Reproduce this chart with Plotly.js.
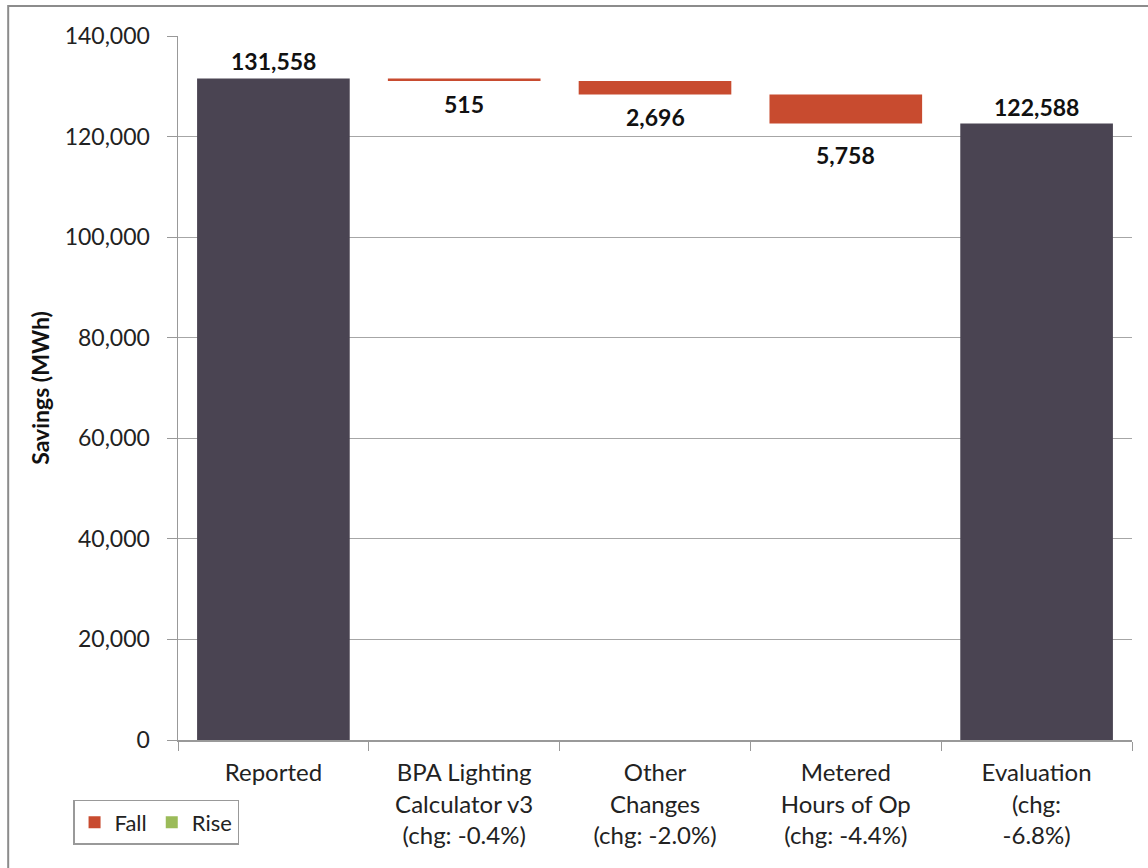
<!DOCTYPE html>
<html>
<head>
<meta charset="utf-8">
<script src="https://cdn.plot.ly/plotly-3.0.1.min.js"></script>
<style>html,body{margin:0;padding:0;background:#fff;}#chart{width:1148px;height:868px;}</style>
</head>
<body>
<div id="chart"></div>
<script>
var categories = ["Reported", "BPA Lighting<br>Calculator v3<br>(chg: -0.4%)", "Other<br>Changes<br>(chg: -2.0%)", "Metered<br>Hours of Op<br>(chg: -4.4%)", "Evaluation<br>(chg:<br>-6.8%)"];
var reported = 131558;
var changes = [-515, -2696, -5758];
var evaluation = 122588;
var totalLabels = ["131,558", "122,588"];
var changeLabels = ["515", "2,696", "5,758"];

var FONT = "Lato, 'Open Sans', sans-serif";
var totalY = [reported, null, null, null, evaluation];
var fallY = [null], fallBase = [null];
var running = reported;
changes.forEach(function (c) { fallBase.push(running); fallY.push(c); running += c; });
fallY.push(null); fallBase.push(null);

var traces = [
  {type: 'bar', x: categories, y: totalY, marker: {color: '#4a4452'}, width: 0.8, showlegend: false, hoverinfo: 'skip'},
  {type: 'bar', name: 'Fall', x: categories, y: fallY, base: fallBase, marker: {color: '#c84b2f'}, width: 0.8},
  {type: 'bar', name: 'Rise', x: categories, y: [null, null, null, null, null], marker: {color: '#9bbb59'}, width: 0.8}
];

var annotations = [];
annotations.push({x: categories[0], y: reported, text: totalLabels[0], showarrow: false, yanchor: 'bottom', yshift: 1});
annotations.push({x: categories[4], y: evaluation, text: totalLabels[1], showarrow: false, yanchor: 'bottom', yshift: 1});
var shifts = [-7, -6, -15];
changes.forEach(function (c, i) {
  annotations.push({x: categories[i + 1], y: fallBase[i + 1] + c, text: changeLabels[i], showarrow: false, yanchor: 'top', yshift: shifts[i]});
});
annotations.forEach(function (a) { a.font = {family: FONT, size: 23, color: '#111', weight: 'bold'}; });

var layout = {
  width: 1148, height: 868,
  margin: {l: 178, r: 16, t: 36, b: 128},
  paper_bgcolor: '#fff', plot_bgcolor: '#fff',
  barmode: 'overlay',
  font: {family: FONT, size: 23, color: '#222'},
  xaxis: {
    type: 'category', tickson: 'boundaries', ticks: 'outside', ticklen: 9, tickcolor: '#999',
    ticklabelstandoff: 11,
    showline: true, linecolor: '#999', linewidth: 1.5, tickfont: {family: FONT, size: 24, color: '#222'}
  },
  yaxis: {
    range: [0, 140000], dtick: 20000, tickformat: ',d', ticks: 'outside', ticklen: 10, tickcolor: '#999',
    ticklabelstandoff: 12,
    showline: true, linecolor: '#999', linewidth: 1.5, showgrid: true, gridcolor: '#a6a6a6', gridwidth: 1,
    zeroline: false, tickfont: {family: FONT, size: 23, color: '#222'},
    title: {text: 'Savings (MWh)', font: {family: FONT, size: 23, color: '#111', weight: 'bold'}, standoff: 8}
  },
  showlegend: true,
  legend: {orientation: 'h', x: -0.11, y: -0.085, xanchor: 'left', yanchor: 'top',
    bordercolor: '#999', borderwidth: 1.5, font: {family: FONT, size: 22, color: '#222'}, traceorder: 'normal'},
  annotations: annotations,
  shapes: [{type: 'rect', xref: 'paper', yref: 'paper', x0: -0.178, x1: 1.2, y0: -0.5, y1: 1.0426,
    line: {color: '#8c8c8c', width: 2}, layer: 'below'}]
};
Plotly.newPlot('chart', traces, layout, {displayModeBar: false, staticPlot: true});
</script>
</body>
</html>
